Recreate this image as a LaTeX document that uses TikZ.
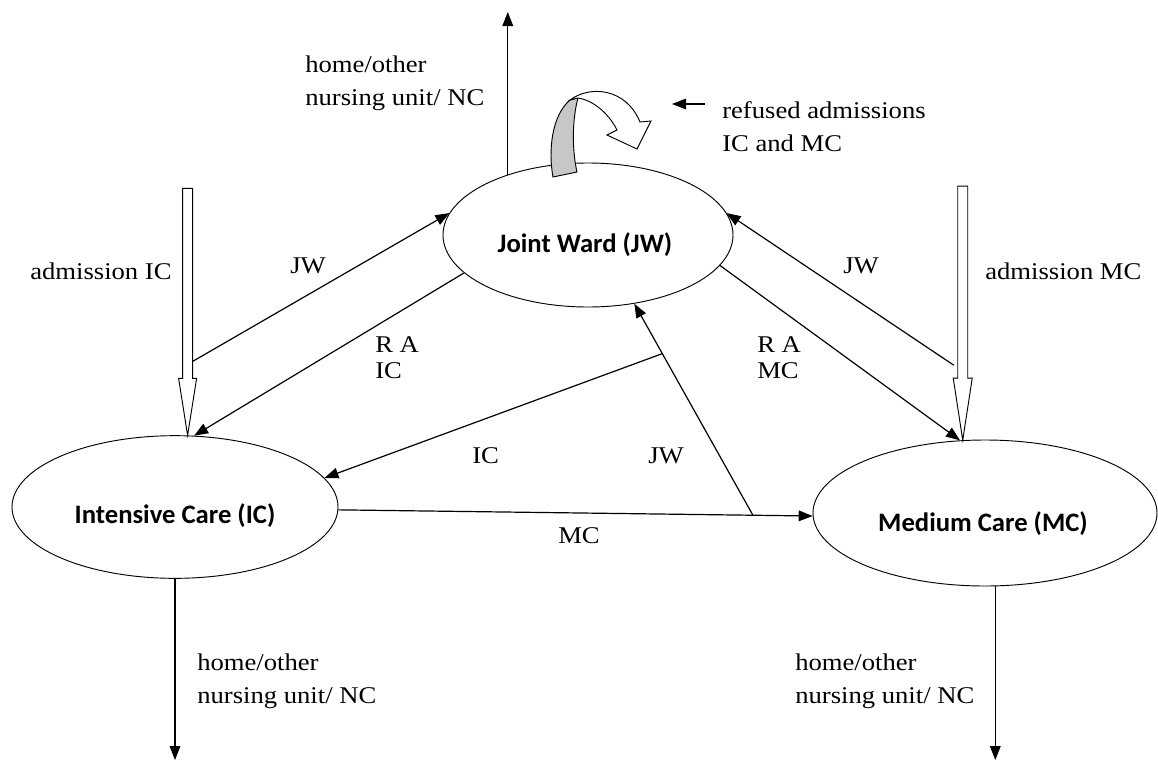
\documentclass[tikz,border=0pt]{standalone}
\usepackage{fontspec}
\setmainfont[FakeStretch=1.11]{Liberation Serif}
\newfontfamily\boldlabfont{Carlito}
\usetikzlibrary{shapes.geometric,arrows.meta,calc}
\begin{document}
\begin{tikzpicture}[x=0.75pt,y=-0.75pt,
  state/.style={ellipse,draw,line width=0.7pt,inner sep=0pt},
  statelab/.style={font=\boldlabfont\bfseries\fontsize{20}{24}\selectfont,anchor=base,inner sep=0pt},
  txt/.style={font=\fontsize{18}{24.75}\selectfont,anchor=base west,inner sep=0pt,align=left},
  lab/.style={font=\fontsize{18}{19.5}\selectfont,anchor=base west,inner sep=0pt,align=left},
  flow/.style={line width=0.9pt,-{Triangle[length=10.5pt,width=8pt]}},
  hollow/.style={draw,line width=0.7pt,fill=white},
  band/.style={draw,line width=0.7pt,fill=black!22},
]
\useasboundingbox (0,0) rectangle (1158,769);

% states
\node[state,minimum width=217.5pt,minimum height=108pt] (JW) at (588,235) {};
\node[state,minimum width=244.5pt,minimum height=107pt] (IC) at (175,507) {};
\node[state,minimum width=258pt,minimum height=109.5pt] (MC) at (985,513) {};
\node[statelab] (JWl) at (585,252) {Joint Ward (JW)};
\node[statelab] (ICl) at (175,523) {Intensive Care (IC)};
\node[statelab] (MCl) at (983,531) {Medium Care (MC)};

% hollow admission arrows
\coordinate (ictip) at (IC.80);
\coordinate (mctip) at (MC.107);
\draw[hollow] (ictip) -- ++(-9,-57) -- ++(4,0) -- ++(0,-190) -- ++(10,0) -- ++(0,190) -- ++(4,0) -- cycle;
\draw[hollow] (mctip) -- ++(-9.5,-62) -- ++(4.5,0) -- ++(0,-192) -- ++(10,0) -- ++(0,192) -- ++(4.5,0) -- cycle;
\coordinate (icshaft) at ($(ictip)+(5,-74)$);
\coordinate (mcshaft) at ($(mctip)+(-9,-75)$);

% connectors
\draw[flow] (icshaft) -- (JW.171);
\draw[flow] (JW.197) -- (IC.75);
\draw[flow] (mcshaft) -- (JW.9);
\draw[flow] (JW.-13) -- (MC.109);
\draw[flow] (IC.-1) -- (MC.181);
\coordinate (jwfoot) at ($(IC.-1)!0.874!(MC.181)$);
\draw[flow] (jwfoot) -- (JW.-56);
\coordinate (junc) at ($(jwfoot)!0.764!(JW.-56)$);
\draw[flow] (junc) -- (IC.11);

% exits
\coordinate (topend) at (508,12);
\draw[flow] (JW.143) -- (JW.143 |- topend);
\coordinate (botend) at (0,760);
\draw[flow] (IC.south) -- (IC.south |- botend);
\draw[flow] (MC.-82) -- (MC.-82 |- botend);

% refused admissions loop
\draw[band] (553,177) .. controls (548,150) and (552,115) .. (570,100) -- (578,98) .. controls (572,120) and (572,150) .. (577,172) -- cycle;
\draw[hollow] (570,100) .. controls (590,85) and (626,88) .. (640,122) -- (651,121) -- (637,149) -- (607,135) -- (617,130) .. controls (608,112) and (592,100) .. (578,98) -- cycle;
\coordinate (rfa) at (705,104);
\coordinate (rfb) at (672,104);
\draw[flow] (rfa) -- (rfb);

% texts (base anchor = baseline of last line)
\node[txt] (hoTop) at (305,105) {home/other\\nursing unit/ NC};
\node[txt] (refl) at (722,151) {refused admissions\\IC and MC};
\node[txt] (admIC) at (30,279) {admission IC};
\node[txt] (admMC) at (985,279) {admission MC};
\node[txt] (hoIC) at (197,703) {home/other\\nursing unit/ NC};
\node[txt] (hoMC) at (795,703) {home/other\\nursing unit/ NC};
\node[lab] (l1) at (290,273) {JW};
\node[lab] (l2) at (375,378) {R A\\IC};
\node[lab] (l3) at (843,273) {JW};
\node[lab] (l4) at (757,378) {R A\\MC};
\node[lab] (l5) at (472,463) {IC};
\node[lab] (l6) at (648,463) {JW};
\node[lab] (l7) at (558,543) {MC};
\end{tikzpicture}
\end{document}
